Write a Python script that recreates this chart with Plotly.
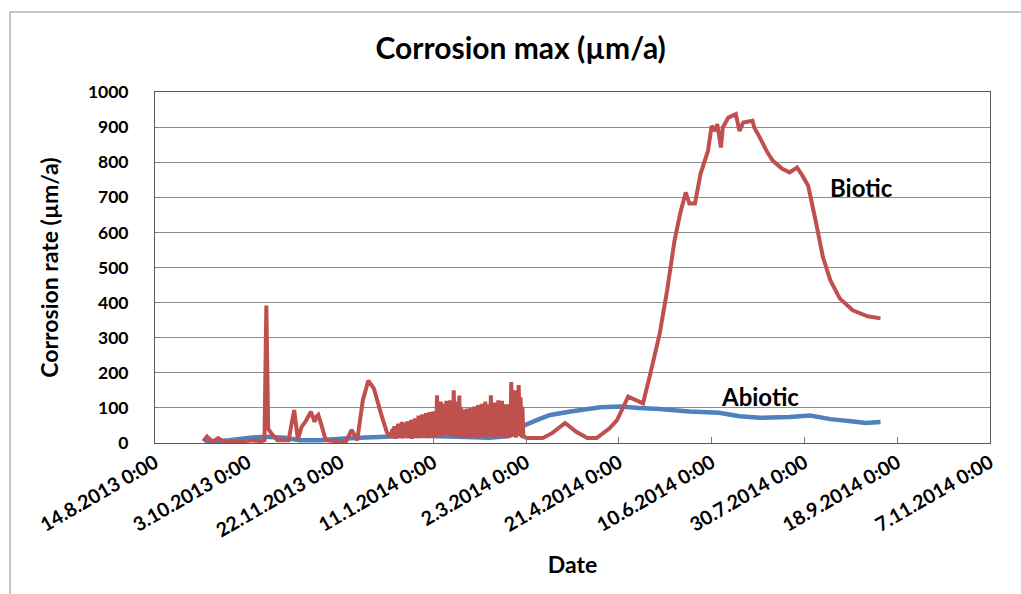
import plotly.graph_objects as go

# ---------------- data ----------------
tick_dates = ["2013-08-14", "2013-10-03", "2013-11-22", "2014-01-11", "2014-03-02",
              "2014-04-21", "2014-06-10", "2014-07-30", "2014-09-18", "2014-11-07"]
tick_labels = ["14.8.2013 0:00", "3.10.2013 0:00", "22.11.2013 0:00", "11.1.2014 0:00",
               "2.3.2014 0:00", "21.4.2014 0:00", "10.6.2014 0:00", "30.7.2014 0:00",
               "18.9.2014 0:00", "7.11.2014 0:00"]

abiotic_dates = ["2013-09-10", "2013-09-23", "2013-10-04", "2013-10-12", "2013-10-23",
                 "2013-10-31", "2013-11-11", "2013-11-22", "2013-12-02", "2013-12-13",
                 "2013-12-24", "2014-01-09", "2014-01-25", "2014-02-10", "2014-02-21",
                 "2014-02-25", "2014-03-01", "2014-03-09", "2014-03-15", "2014-03-26",
                 "2014-04-11", "2014-04-22", "2014-05-02", "2014-05-13", "2014-05-29",
                 "2014-06-14", "2014-06-25", "2014-07-06", "2014-07-22", "2014-08-02",
                 "2014-08-13", "2014-08-24", "2014-09-01", "2014-09-09"]
abiotic_vals = [3, 8, 15, 18, 15, 8, 8, 12, 15, 17,
                20, 20, 18, 15, 20, 30, 50, 68, 80, 90,
                102, 104, 100, 97, 90, 86, 76, 72, 74, 78,
                68, 62, 57, 60]

# Biotic, first part (before the noisy period)
biotic_early_dates = [
    "2013-09-09", "2013-09-11", "2013-09-14", "2013-09-17", "2013-09-20", "2013-09-30",
    "2013-10-05", "2013-10-10", "2013-10-12", "2013-10-13", "2013-10-14", "2013-10-16",
    "2013-10-19", "2013-10-25", "2013-10-28", "2013-10-30", "2013-11-01", "2013-11-03",
    "2013-11-06", "2013-11-08", "2013-11-09", "2013-11-10", "2013-11-12", "2013-11-14",
    "2013-11-20", "2013-11-25", "2013-11-28", "2013-12-01", "2013-12-04", "2013-12-07",
    "2013-12-10", "2013-12-14", "2013-12-17", "2013-12-19"]
biotic_early_vals = [
    5, 18, 4, 14, 3, 3,
    8, 5, 8, 392, 40, 25,
    8, 8, 94, 10, 46, 60,
    89, 60, 75, 80, 46, 8,
    5, 5, 37, 8, 122, 178,
    155, 80, 30, 18]

# Biotic, noisy period: one day per entry, readings at 0:00 and 12:00
biotic_noise_days = [
    "2013-12-20", "2013-12-21", "2013-12-22", "2013-12-23", "2013-12-24", "2013-12-25",
    "2013-12-26", "2013-12-27", "2013-12-28", "2013-12-29", "2013-12-30", "2013-12-31",
    "2014-01-01", "2014-01-02", "2014-01-03", "2014-01-04", "2014-01-05", "2014-01-06",
    "2014-01-07", "2014-01-08", "2014-01-09", "2014-01-10", "2014-01-11", "2014-01-12",
    "2014-01-13", "2014-01-14", "2014-01-15", "2014-01-16", "2014-01-17", "2014-01-18",
    "2014-01-19", "2014-01-20", "2014-01-21", "2014-01-22", "2014-01-23", "2014-01-24",
    "2014-01-25", "2014-01-26", "2014-01-27", "2014-01-28", "2014-01-29", "2014-01-30",
    "2014-01-31", "2014-02-01", "2014-02-02", "2014-02-03", "2014-02-04", "2014-02-05",
    "2014-02-06", "2014-02-07", "2014-02-08", "2014-02-09", "2014-02-10", "2014-02-11",
    "2014-02-12", "2014-02-13", "2014-02-14", "2014-02-15", "2014-02-16", "2014-02-17",
    "2014-02-18", "2014-02-19", "2014-02-20", "2014-02-21", "2014-02-22", "2014-02-23",
    "2014-02-24", "2014-02-25", "2014-02-26", "2014-02-27", "2014-02-28", "2014-03-01"]
biotic_noise_hi = [
    40, 48, 35, 55, 50, 60, 45, 58, 62, 50, 66, 60,
    70, 65, 78, 72, 82, 75, 85, 80, 88, 78, 90, 85,
    136, 105, 118, 100, 112, 120, 95, 122, 110, 150, 118, 105,
    135, 100, 95, 88, 98, 92, 100, 96, 104, 90, 108, 98,
    112, 104, 118, 100, 110, 136, 104, 115, 100, 122, 108, 120,
    95, 110, 100, 110, 174, 120, 150, 110, 165, 130, 103, 20]
biotic_noise_lo = [
    15, 12, 18, 14, 20, 13, 16, 22, 14, 18, 12, 20,
    16, 14, 22, 15, 18, 25, 14, 20, 16, 24, 18, 15,
    22, 28, 18, 25, 20, 30, 22, 18, 26, 20, 24, 18,
    16, 22, 14, 18, 20, 15, 13, 18, 22, 16, 14, 20,
    18, 24, 15, 20, 26, 18, 14, 22, 16, 20, 25, 18,
    14, 20, 16, 22, 18, 25, 15, 20, 28, 16, 14, 16]

# Biotic, later part
biotic_late_dates = [
    "2014-03-03", "2014-03-11", "2014-03-16", "2014-03-23", "2014-03-29", "2014-04-04",
    "2014-04-09", "2014-04-16", "2014-04-20", "2014-04-26", "2014-05-04", "2014-05-08",
    "2014-05-13", "2014-05-17", "2014-05-21", "2014-05-24", "2014-05-27", "2014-05-29",
    "2014-06-01", "2014-06-04", "2014-06-08", "2014-06-10", "2014-06-12", "2014-06-13",
    "2014-06-15", "2014-06-16", "2014-06-19", "2014-06-23", "2014-06-25", "2014-06-27",
    "2014-07-02", "2014-07-03", "2014-07-06", "2014-07-10", "2014-07-13", "2014-07-18",
    "2014-07-22", "2014-07-26", "2014-07-29", "2014-08-01", "2014-08-05", "2014-08-09",
    "2014-08-13", "2014-08-18", "2014-08-25", "2014-09-02", "2014-09-09"]
biotic_late_vals = [
    14, 14, 28, 57, 32, 14,
    14, 42, 65, 132, 113, 199,
    312, 435, 577, 653, 714, 682,
    682, 767, 832, 903, 889, 909,
    842, 899, 927, 937, 889, 913,
    918, 898, 870, 828, 804, 781,
    771, 785, 761, 733, 634, 529,
    463, 412, 378, 361, 355]

# assemble biotic series
biotic_x = list(biotic_early_dates)
biotic_y = list(biotic_early_vals)
for day, hi, lo in zip(biotic_noise_days, biotic_noise_hi, biotic_noise_lo):
    biotic_x += [day + " 00:00", day + " 12:00"]
    biotic_y += [hi, lo]
biotic_x += biotic_late_dates
biotic_y += biotic_late_vals

RED = "#C0504D"
BLUE = "#4F81BD"
FONT = "Lato"

fig = go.Figure()
fig.add_trace(go.Scatter(x=abiotic_dates, y=abiotic_vals, mode="lines", name="Abiotic",
                         line=dict(color=BLUE, width=4.5, simplify=False)))
fig.add_trace(go.Scatter(x=biotic_x, y=biotic_y, mode="lines", name="Biotic",
                         line=dict(color=RED, width=4, simplify=False)))

fig.add_annotation(x="2014-08-30", y=729, text="Biotic", showarrow=False,
                   font=dict(family=FONT, size=24, color="#000", weight="bold"))
fig.add_annotation(x="2014-07-06", y=133, text="Abiotic", showarrow=False,
                   font=dict(family=FONT, size=24, color="#000", weight="bold"))

# outer chart frame
fig.add_shape(type="rect", xref="paper", yref="paper", x0=-0.1737, x1=1.2, y0=-0.7, y1=1.228,
              line=dict(color="#8c8c8c", width=1), fillcolor="rgba(0,0,0,0)", layer="below")

fig.update_layout(
    width=1021, height=594,
    margin=dict(l=155, r=31, t=92, b=151),
    paper_bgcolor="white", plot_bgcolor="white",
    showlegend=False,
    title=dict(text="Corrosion max (µm/a)", x=0.51, xref="container", xanchor="center",
               y=1 - 48 / 594, yanchor="middle",
               font=dict(family=FONT, size=30, color="#000", weight="bold")),
    xaxis=dict(range=["2013-08-14", "2014-11-07"], tickmode="array",
               tickvals=tick_dates, ticktext=tick_labels, tickangle=-30,
               showgrid=False, ticks="inside", ticklen=6, tickcolor="#7f7f7f",
               showline=True, linecolor="#595959", linewidth=1, mirror=True,
               tickfont=dict(family=FONT, size=19.5, color="#000", weight="bold"),
               title=dict(text="Date", standoff=16,
                          font=dict(family=FONT, size=23, color="#000", weight="bold"))),
    yaxis=dict(range=[0, 1000], dtick=100, tick0=0,
               showgrid=True, gridcolor="#8c8c8c", gridwidth=1,
               ticks="inside", ticklen=4, tickcolor="#7f7f7f", zeroline=False,
               ticklabelstandoff=22,
               showline=True, linecolor="#595959", linewidth=1, mirror=True,
               tickfont=dict(family=FONT, size=17.5, color="#000", weight="bold"),
               title=dict(text="Corrosion rate (µm/a)", standoff=22,
                          font=dict(family=FONT, size=23, color="#000", weight="bold"))),
)

fig.write_html("out.html")
